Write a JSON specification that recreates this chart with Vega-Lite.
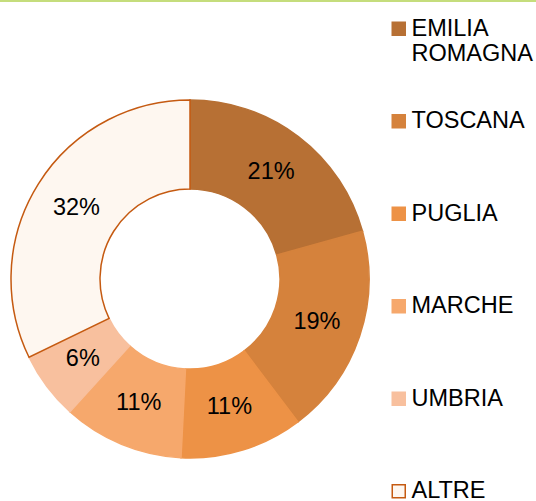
{
  "$schema": "https://vega.github.io/schema/vega-lite/v6.json",
  "padding": 0,
  "spacing": 0,
  "resolve": {"legend": {"color": "independent", "stroke": "independent"}, "scale": {"color": "independent", "stroke": "independent"}},
  "config": {
    "view": {"stroke": null},
    "font": "Liberation Sans",
    "legend": {
      "title": null,
      "orient": "right",
      "offset": -8,
      "padding": 15,
      "symbolType": "square",
      "symbolSize": 169,
      "symbolStrokeWidth": 1.5,
      "labelFontSize": 23.5,
      "labelFont": "Liberation Sans",
      "labelColor": "#000000",
      "labelOffset": 1,
      "labelLimit": 200,
      "gridAlign": "all",
      "rowPadding": 42.5
    }
  },
  "vconcat": [
    {
      "width": 536,
      "height": 2,
      "view": {"fill": "#c5dd7c", "stroke": null},
      "data": {"values": [{"a": 1}]},
      "mark": {"type": "point", "size": 0, "opacity": 0},
      "encoding": {}
    },
    {
      "width": 380,
      "height": 554,
      "data": {
        "values": [
          {"regione": "EMILIA ROMAGNA", "quota": 0.207, "ordine": 1},
          {"regione": "TOSCANA", "quota": 0.19, "ordine": 2},
          {"regione": "PUGLIA", "quota": 0.111, "ordine": 3},
          {"regione": "MARCHE", "quota": 0.109, "ordine": 4},
          {"regione": "UMBRIA", "quota": 0.061, "ordine": 5},
          {"regione": "ALTRE", "quota": 0.322, "ordine": 6}
        ]
      },
      "encoding": {
        "theta": {"field": "quota", "type": "quantitative", "stack": true},
        "order": {"field": "ordine", "type": "quantitative"}
      },
      "layer": [
        {
          "mark": {"type": "arc", "outerRadius": 179, "innerRadius": 90, "strokeWidth": 1.5},
          "encoding": {
            "color": {
              "field": "regione",
              "type": "nominal",
              "scale": {
                "domain": ["EMILIA ROMAGNA", "TOSCANA", "PUGLIA", "MARCHE", "UMBRIA", "ALTRE"],
                "range": ["#b77034", "#d5823c", "#ed9246", "#f6a86c", "#f8c09e", "#fef7f0"]
              },
              "legend": {
                "labelExpr": "datum.label == 'EMILIA ROMAGNA' ? ['EMILIA', 'ROMAGNA'] : datum.label"
              }
            },
            "stroke": {
              "field": "regione",
              "type": "nominal",
              "scale": {
                "domain": ["EMILIA ROMAGNA", "TOSCANA", "PUGLIA", "MARCHE", "UMBRIA", "ALTRE"],
                "range": ["#b77034", "#d5823c", "#ed9246", "#f6a86c", "#f8c09e", "#c55a11"]
              },
              "legend": {
                "labelExpr": "datum.label == 'EMILIA ROMAGNA' ? ['EMILIA', 'ROMAGNA'] : datum.label"
              }
            }
          }
        },
        {
          "mark": {"type": "text", "radius": 134, "fontSize": 23.5, "font": "Liberation Sans", "color": "#000000"},
          "encoding": {
            "text": {"field": "quota", "type": "quantitative", "format": ".0%"}
          }
        }
      ]
    }
  ]
}
